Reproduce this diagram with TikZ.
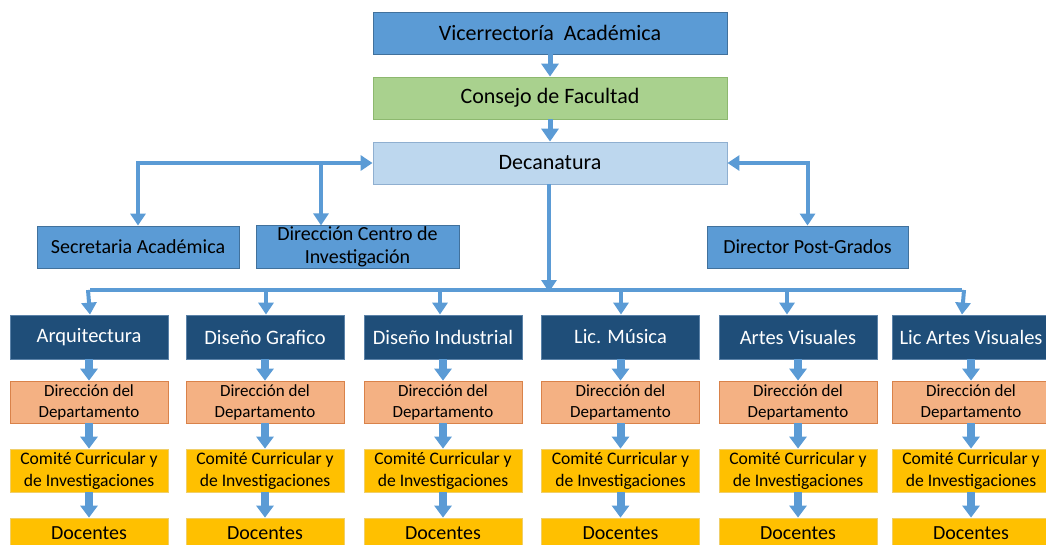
\documentclass[tikz,border=0pt]{standalone}
\usepackage{fontspec}
\setmainfont{Carlito}
\usetikzlibrary{arrows.meta,positioning}
\definecolor{arrowblue}{HTML}{5B9BD5}
\definecolor{midblue}{HTML}{5B9BD5}
\definecolor{midblueb}{HTML}{41719C}
\definecolor{greenf}{HTML}{A9D18E}
\definecolor{greenb}{HTML}{8DB86F}
\definecolor{lightblue}{HTML}{BDD7EE}
\definecolor{lightblueb}{HTML}{8FAFD0}
\definecolor{darkblue}{HTML}{1F4E79}
\definecolor{darkblueb}{HTML}{5B82A8}
\definecolor{salmon}{HTML}{F4B183}
\definecolor{salmonb}{HTML}{D9824A}
\definecolor{gold}{HTML}{FFC000}
\definecolor{goldb}{HTML}{F0CF6A}
\tikzset{
  box/.style={draw, line width=0.8pt, inner sep=1pt, align=center, text=black},
  topbox/.style={box, minimum width=354pt, minimum height=42pt, font=\fontsize{22}{24}\selectfont},
  sidebox/.style={box, fill=midblue, draw=midblueb, minimum height=42pt, font=\fontsize{20}{23}\selectfont},
  deptbox/.style={box, fill=darkblue, draw=darkblueb, text=white, minimum width=158pt, minimum height=44pt, font=\fontsize{20.5}{23}\selectfont},
  dirbox/.style={box, fill=salmon, draw=salmonb, minimum width=158pt, minimum height=42pt, font=\fontsize{17}{21}\selectfont},
  combox/.style={box, fill=gold, draw=goldb, minimum width=158pt, minimum height=43pt, font=\fontsize{17.6}{22}\selectfont},
  docbox/.style={box, fill=gold, draw=goldb, minimum width=158pt, minimum height=30pt, font=\fontsize{20}{22}\selectfont},
  conn/.style={draw=arrowblue, line width=4pt},
  connarr/.style={conn, -{Triangle[width=15pt,length=12pt]}},
  connboth/.style={conn, {Triangle[width=15pt,length=12pt]}-{Triangle[width=15pt,length=12pt]}},
  toparr/.style={draw=arrowblue, line width=5pt, -{Triangle[width=17pt,length=13pt]}},
  colarr/.style={draw=arrowblue, line width=8pt, -{Triangle[width=17pt,length=12pt]}},
}
\begin{document}
\begin{tikzpicture}[x=1pt,y=-1pt]
\useasboundingbox (0,0) rectangle (1046,544);
% top chain
\node[topbox, fill=midblue, draw=midblueb] (vice) at (550,33) {Vicerrectoría\ \ Académica};
\node[topbox, fill=greenf, draw=greenb] (cons) at (550,98) {Consejo de Facultad};
\node[topbox, fill=lightblue, draw=lightblueb] (dec) at (550,163) {Decanatura};
% side boxes
\node[sidebox, minimum width=202pt] (sec) at (138,247) {Secretaria Académica};
\node[sidebox, minimum width=203pt, font=\fontsize{20}{23}\selectfont] (dci) at (357.5,247) {Dirección Centro de\\Investigación};
\node[sidebox, minimum width=201pt] (dpg) at (807.5,247) {Director Post-Grados};
% departments
\foreach \i/\cx/\name in {1/89/Arquitectura, 2/265/Diseño Grafico, 3/443/Diseño Industrial, 4/620.5/Lic. Música, 5/798/Artes Visuales, 6/971/Lic Artes Visuales}{
  \node[deptbox] (dep\i) at (\cx,337) {\name};
  \node[dirbox] (dir\i) at (\cx,402) {Dirección del\\Departamento};
  \node[combox] (com\i) at (\cx,470.5) {Comité Curricular y\\de Investigaciones};
  \node[docbox] (doc\i) at (\cx,533) {Docentes};
  \draw[colarr] (dep\i.south) -- (dir\i.north);
  \draw[colarr] (dir\i.south) -- (com\i.north);
  \draw[colarr] (com\i.south) -- (doc\i.north);
}
% top arrows
\draw[toparr] (vice.south) -- (cons.north);
\draw[toparr] (cons.south) -- (dec.north);
% side connectors
\coordinate (j1) at (321,163);
\draw[connboth] (sec.north) |- (dec.west);
\draw[connarr] (j1) -- (j1 |- dci.north);
\draw[connboth] (dec.east) -| (dpg.north);
% bus
\coordinate (bd) at (549,292);
\draw[connarr] (dec.south -| bd) -- (bd);
\foreach \i/\bx in {1/90, 2/266, 3/440, 4/621, 5/787, 6/962}{
  \coordinate (b\i) at (\bx,290);
}
\draw[conn] (b1) -- (b6);
\draw[connarr] ([xshift=-2pt]b1) -- (b1 |- dep1.north);
\draw[connarr] ([xshift=2pt]b6) -- (b6 |- dep6.north);
\foreach \i in {2,3,4,5}{
  \draw[connarr] (b\i) -- (b\i |- dep\i.north);
}
\end{tikzpicture}
\end{document}
